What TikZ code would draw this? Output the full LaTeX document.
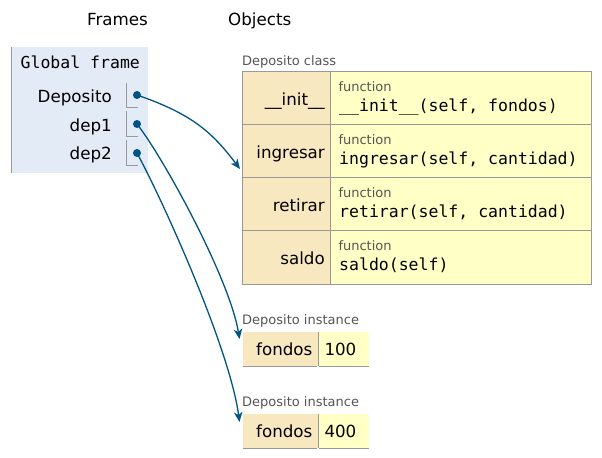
\documentclass[tikz,border=0pt]{standalone}
\usepackage{fontspec}
\setmainfont{DejaVu Sans}
\setmonofont{DejaVu Sans Mono}
\usetikzlibrary{arrows.meta}
\definecolor{framebg}{HTML}{E2EBF6}
\definecolor{keybg}{HTML}{F8E8BF}
\definecolor{valbg}{HTML}{FFFFC6}
\definecolor{bordergray}{HTML}{999999}
\definecolor{labelgray}{HTML}{555555}
\definecolor{arrowblue}{HTML}{005583}
\begin{document}
\begin{tikzpicture}[x=1bp,y=-1bp,
  big/.style={inner sep=0pt,font=\fontsize{16.7bp}{19bp}\selectfont},
  code/.style={inner sep=0pt,font=\fontsize{16.5bp}{19bp}\selectfont\ttfamily},
  small/.style={inner sep=0pt,text=labelgray,font=\fontsize{13bp}{15bp}\selectfont},
  cell/.style={draw=bordergray,line width=1bp},
  ptr/.style={draw=arrowblue,line width=1.3bp,-{Stealth[length=10bp,width=8.5bp,inset=3bp]}},
  dot/.style={circle,fill=arrowblue,inner sep=0pt,minimum size=8bp}]
\useasboundingbox (0,0) rectangle (602,458);
% headings
\node[big,anchor=base west] (hframes) at (87,25.7) {Frames};
\node[big,anchor=base west] (hobjects) at (228,25.7) {Objects};
% global frame
\fill[framebg] (11,47) rectangle (148,173);
\draw[bordergray,line width=1bp] (11,47) -- (11,173);
\node[code,anchor=base west] (gf) at (20.5,68.3) {Global frame};
\node[big,anchor=base east] (vdep) at (112,102.3) {Deposito};
\node[big,anchor=base east] (vdep1) at (112,131.3) {dep1};
\node[big,anchor=base east] (vdep2) at (112,160) {dep2};
\draw[bordergray,line width=1bp] (126,83) -- (126,108) -- (138,108);
\draw[bordergray,line width=1bp] (126,111) -- (126,137) -- (138,137);
\draw[bordergray,line width=1bp] (126,140) -- (126,166) -- (138,166);
\node[dot] (d0) at (137,95) {};
\node[dot] (d1) at (137,124) {};
\node[dot] (d2) at (137,153) {};
% class
\node[small,anchor=base west] (clabel) at (242,66) {Deposito class};
\fill[keybg] (242,72) rectangle (330,284);
\fill[valbg] (330,72) rectangle (591,284);
\draw[cell] (242,72) rectangle (591,284);
\draw[cell] (242,125) -- (591,125);
\draw[cell] (242,178) -- (591,178);
\draw[cell] (242,231) -- (591,231);
\draw[cell] (330,72) -- (330,284);
\coordinate (ctarget) at (240,169);
\node[big,anchor=base east] (k1) at (325,106) {\_\_init\_\_};
\node[big,anchor=base east] (k2) at (325,159) {ingresar};
\node[big,anchor=base east] (k3) at (325,212) {retirar};
\node[big,anchor=base east] (k4) at (325,265) {saldo};
\node[small,anchor=base west] (f1) at (338.3,91.7) {function};
\node[code,anchor=base west] (c1) at (339,111.7) {\_\_init\_\_(self, fondos)};
\node[small,anchor=base west] (f2) at (338.3,144.7) {function};
\node[code,anchor=base west] (c2) at (339,164.7) {ingresar(self, cantidad)};
\node[small,anchor=base west] (f3) at (338.3,197.7) {function};
\node[code,anchor=base west] (c3) at (339,217.7) {retirar(self, cantidad)};
\node[small,anchor=base west] (f4) at (338.3,250.7) {function};
\node[code,anchor=base west] (c4) at (339,270.7) {saldo(self)};
% instance 1
\node[small,anchor=base west] (i1label) at (242,324.3) {Deposito instance};
\fill[keybg] (243,332) rectangle (318,366);
\fill[valbg] (318,332) rectangle (369,366);
\draw[cell] (243,366) -- (317,366);
\draw[cell] (319,366) -- (369,366);
\draw[cell] (318,332) -- (318,366);
\node[big,anchor=base west] (i1k) at (256,355) {fondos};
\node[big,anchor=base west] (i1v) at (324.3,355) {100};
\coordinate (i1t) at (239.5,339);
% instance 2
\node[small,anchor=base west] (i2label) at (242,406.5) {Deposito instance};
\fill[keybg] (243,414) rectangle (318,448);
\fill[valbg] (318,414) rectangle (369,448);
\draw[cell] (243,448) -- (317,448);
\draw[cell] (319,448) -- (369,448);
\draw[cell] (318,414) -- (318,448);
\node[big,anchor=base west] (i2k) at (256,437) {fondos};
\node[big,anchor=base west] (i2v) at (324.3,437) {400};
\coordinate (i2t) at (239.5,422);
% pointers
\draw[ptr] (d0.center) .. controls (192,114) and (212,132) .. (ctarget);
\draw[ptr] (d1.center) .. controls (165,160) and (230,280) .. (i1t);
\draw[ptr] (d2.center) .. controls (165,205) and (230,350) .. (i2t);
\end{tikzpicture}
\end{document}
